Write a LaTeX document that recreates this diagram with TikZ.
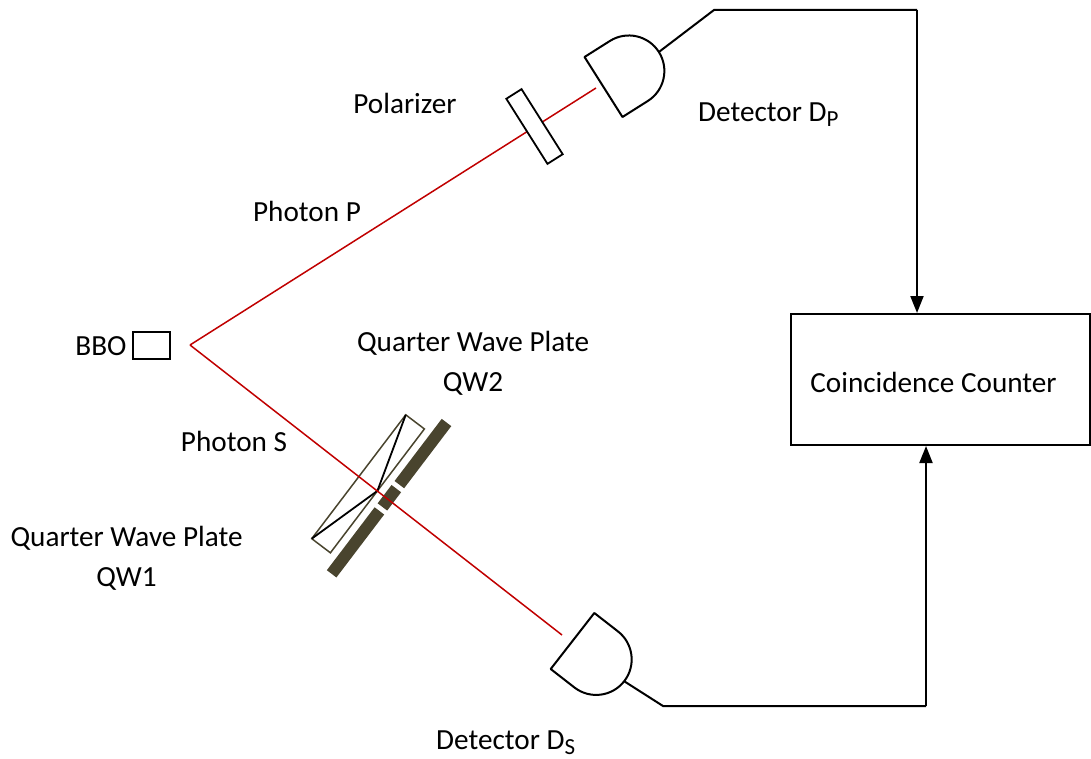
\documentclass[tikz,border=0pt]{standalone}
\usepackage{fontspec}
\setmainfont{Carlito}
\usetikzlibrary{arrows.meta}
\definecolor{beam}{RGB}{192,0,0}
\definecolor{plate}{RGB}{73,68,46}
\newcommand\mysubsc[1]{\raisebox{-5pt}{\fontsize{23}{23}\selectfont #1}}
\begin{document}
\begin{tikzpicture}[x=1pt,y=-1pt,
  lbl/.style={font=\fontsize{29.2}{35}\selectfont, inner sep=0pt, anchor=base},
  wire/.style={draw=black, line width=2pt},
  ray/.style={draw=beam, line width=1.5pt},
  detshape/.style={draw=black, line width=2pt, fill=white, line join=round},
  tip/.style={-{Triangle[length=17pt,width=13pt]}}]
\useasboundingbox (0,0) rectangle (1091,759);

% source
\node[draw, line width=1.6pt, minimum width=37pt, minimum height=27pt, inner sep=0pt] (bbo) at (151.5,345.5) {};
\coordinate (src) at (190,345);
\coordinate (pend) at (596,88);
\coordinate (send) at (562,635);

% quarter wave plates
\begin{scope}[shift={(446.5,422.5)}, rotate=-127.2]
  \fill[plate] (0,-6) rectangle (78,6);
  \fill[plate] (83,-6) rectangle (106,6);
  \fill[plate] (111,-6) rectangle (190,6);
  \draw[plate, line width=1.5pt] (18.5,13.7) rectangle (174,37.1);
  \draw[black, line width=1.8pt] (18.5,37.1) -- (96.25,13.7) -- (174,37.1);
\end{scope}

% beams
\draw[ray] (src) -- (pend);
\draw[ray] (src) -- (send);

% polarizer
\begin{scope}[shift={(534.5,126.5)}, rotate=32.3]
  \draw[line width=1.8pt, fill=white] (-9,-38.5) rectangle (9,38.5);
\end{scope}

% detector P
\begin{scope}[shift={(603.5,87)}, rotate=32.3]
  \draw[detshape] (0,-35.5) -- (30,-35.5)
     .. controls (49.6,-35.5) and (65.5,-19.6) .. (65.5,0)
     .. controls (65.5,19.6) and (49.6,35.5) .. (30,35.5)
     -- (0,35.5) -- cycle;
  \coordinate (dpout) at (65.5,0);
\end{scope}

% detector S
\begin{scope}[shift={(572.5,641)}, rotate=-37.9]
  \draw[detshape] (0,-35.5) -- (30,-35.5)
     .. controls (49.6,-35.5) and (65.5,-19.6) .. (65.5,0)
     .. controls (65.5,19.6) and (49.6,35.5) .. (30,35.5)
     -- (0,35.5) -- cycle;
  \coordinate (dsout) at (65.5,0);
\end{scope}

% coincidence counter
\node[draw, line width=2pt, minimum width=299pt, minimum height=131pt, inner sep=0pt, anchor=north west] (cc) at (790,313) {};
\node[lbl] (cctext) at (933.5,392.7) {Coincidence Counter};

% wires
\coordinate (pbend) at (714,10);
\coordinate (pcorner) at (917,10);
\coordinate (sbend) at (663,706);
\coordinate (scorner) at (926,706);
\draw[wire, line join=miter] (dpout) -- (pbend) -- (pcorner);
\draw[wire, tip] (pcorner) -- (pcorner |- cc.north);
\draw[wire, line join=miter] (dsout) -- (sbend) -- (scorner);
\draw[wire, tip] (scorner) -- (scorner |- cc.south);

% labels
\node[lbl] (lpol) at (405,114) {Polarizer};
\node[lbl, anchor=base west] (ldp) at (698,122) {Detector D\mysubsc{P}};
\node[lbl] (lpp) at (307,221.7) {Photon P};
\node[lbl] (lbbo) at (101,355.7) {BBO};
\node[lbl] (lqw2a) at (473,351.7) {Quarter Wave Plate};
\node[lbl] (lqw2b) at (473,391.7) {QW2};
\node[lbl] (lps) at (234,451.7) {Photon S};
\node[lbl] (lqw1a) at (126.5,546.7) {Quarter Wave Plate};
\node[lbl] (lqw1b) at (126.5,586.7) {QW1};
\node[lbl, anchor=base west] (lds) at (436,749.5) {Detector D\mysubsc{S}};
\end{tikzpicture}
\end{document}
